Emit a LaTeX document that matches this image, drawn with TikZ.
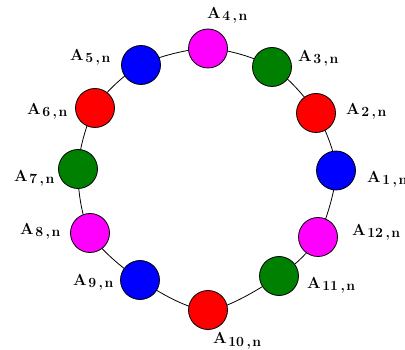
\documentclass[tikz,border=0pt]{standalone}
\usepackage{fontspec}
\definecolor{dgreen}{RGB}{0,128,0}
\definecolor{vmag}{RGB}{255,0,255}
\definecolor{vblue}{RGB}{0,0,255}
\definecolor{vred}{RGB}{255,0,0}
\newcommand\albl[1]{\textbf{A}\kern1.5pt\raisebox{-2pt}{\fontsize{14}{14}\selectfont\textbf{#1\kern2.5pt,\kern1.5pt n}}}
\begin{document}
\begin{tikzpicture}[x=1pt,y=-1pt,
  vtx/.style={circle,draw=black,line width=0.8pt,minimum size=39pt,inner sep=0pt},
  lbl/.style={anchor=base west,inner sep=0pt,font=\fontsize{16}{16}\selectfont},
  ring/.style={line width=0.8pt}]
\useasboundingbox (0,0) rectangle (405,350);
\clip (0,0) rectangle (405,350);
\coordinate (p1) at (336,170.5);
\coordinate (p2) at (316,113);
\coordinate (p3) at (272,67);
\coordinate (p4) at (208,48.5);
\coordinate (p5) at (141,65);
\coordinate (p6) at (95,108);
\coordinate (p7) at (78,169);
\coordinate (p8) at (90,233);
\coordinate (p9) at (140,280);
\coordinate (p10) at (208,310);
\coordinate (p11) at (279,276);
\coordinate (p12) at (318,237);
\draw[ring] plot[smooth cycle] coordinates {(p1) (p2) (p3) (p4) (p5) (p6) (p7) (p8) (p9) (p10) (p11) (p12)};
\node[vtx,fill=vblue] (A1) at (p1) {};
\node[vtx,fill=vred] (A2) at (p2) {};
\node[vtx,fill=dgreen] (A3) at (p3) {};
\node[vtx,fill=vmag] (A4) at (p4) {};
\node[vtx,fill=vblue] (A5) at (p5) {};
\node[vtx,fill=vred] (A6) at (p6) {};
\node[vtx,fill=dgreen] (A7) at (p7) {};
\node[vtx,fill=vmag] (A8) at (p8) {};
\node[vtx,fill=vblue] (A9) at (p9) {};
\node[vtx,fill=vred] (A10) at (p10) {};
\node[vtx,fill=dgreen] (A11) at (p11) {};
\node[vtx,fill=vmag] (A12) at (p12) {};
\node[lbl] (L1) at (367,183) {\albl{1}};
\node[lbl] (L2) at (346,115) {\albl{2}};
\node[lbl] (L3) at (298,62) {\albl{3}};
\node[lbl] (L4) at (207,19) {\albl{4}};
\node[lbl] (L5) at (70,61) {\albl{5}};
\node[lbl] (L6) at (27,115) {\albl{6}};
\node[lbl] (L7) at (14,182) {\albl{7}};
\node[lbl] (L8) at (20,235) {\albl{8}};
\node[lbl] (L9) at (73,286) {\albl{9}};
\node[lbl] (L10) at (213,344) {\albl{10}};
\node[lbl] (L11) at (307,289) {\albl{11}};
\node[lbl] (L12) at (352,236) {\albl{12}};
\end{tikzpicture}
\end{document}
